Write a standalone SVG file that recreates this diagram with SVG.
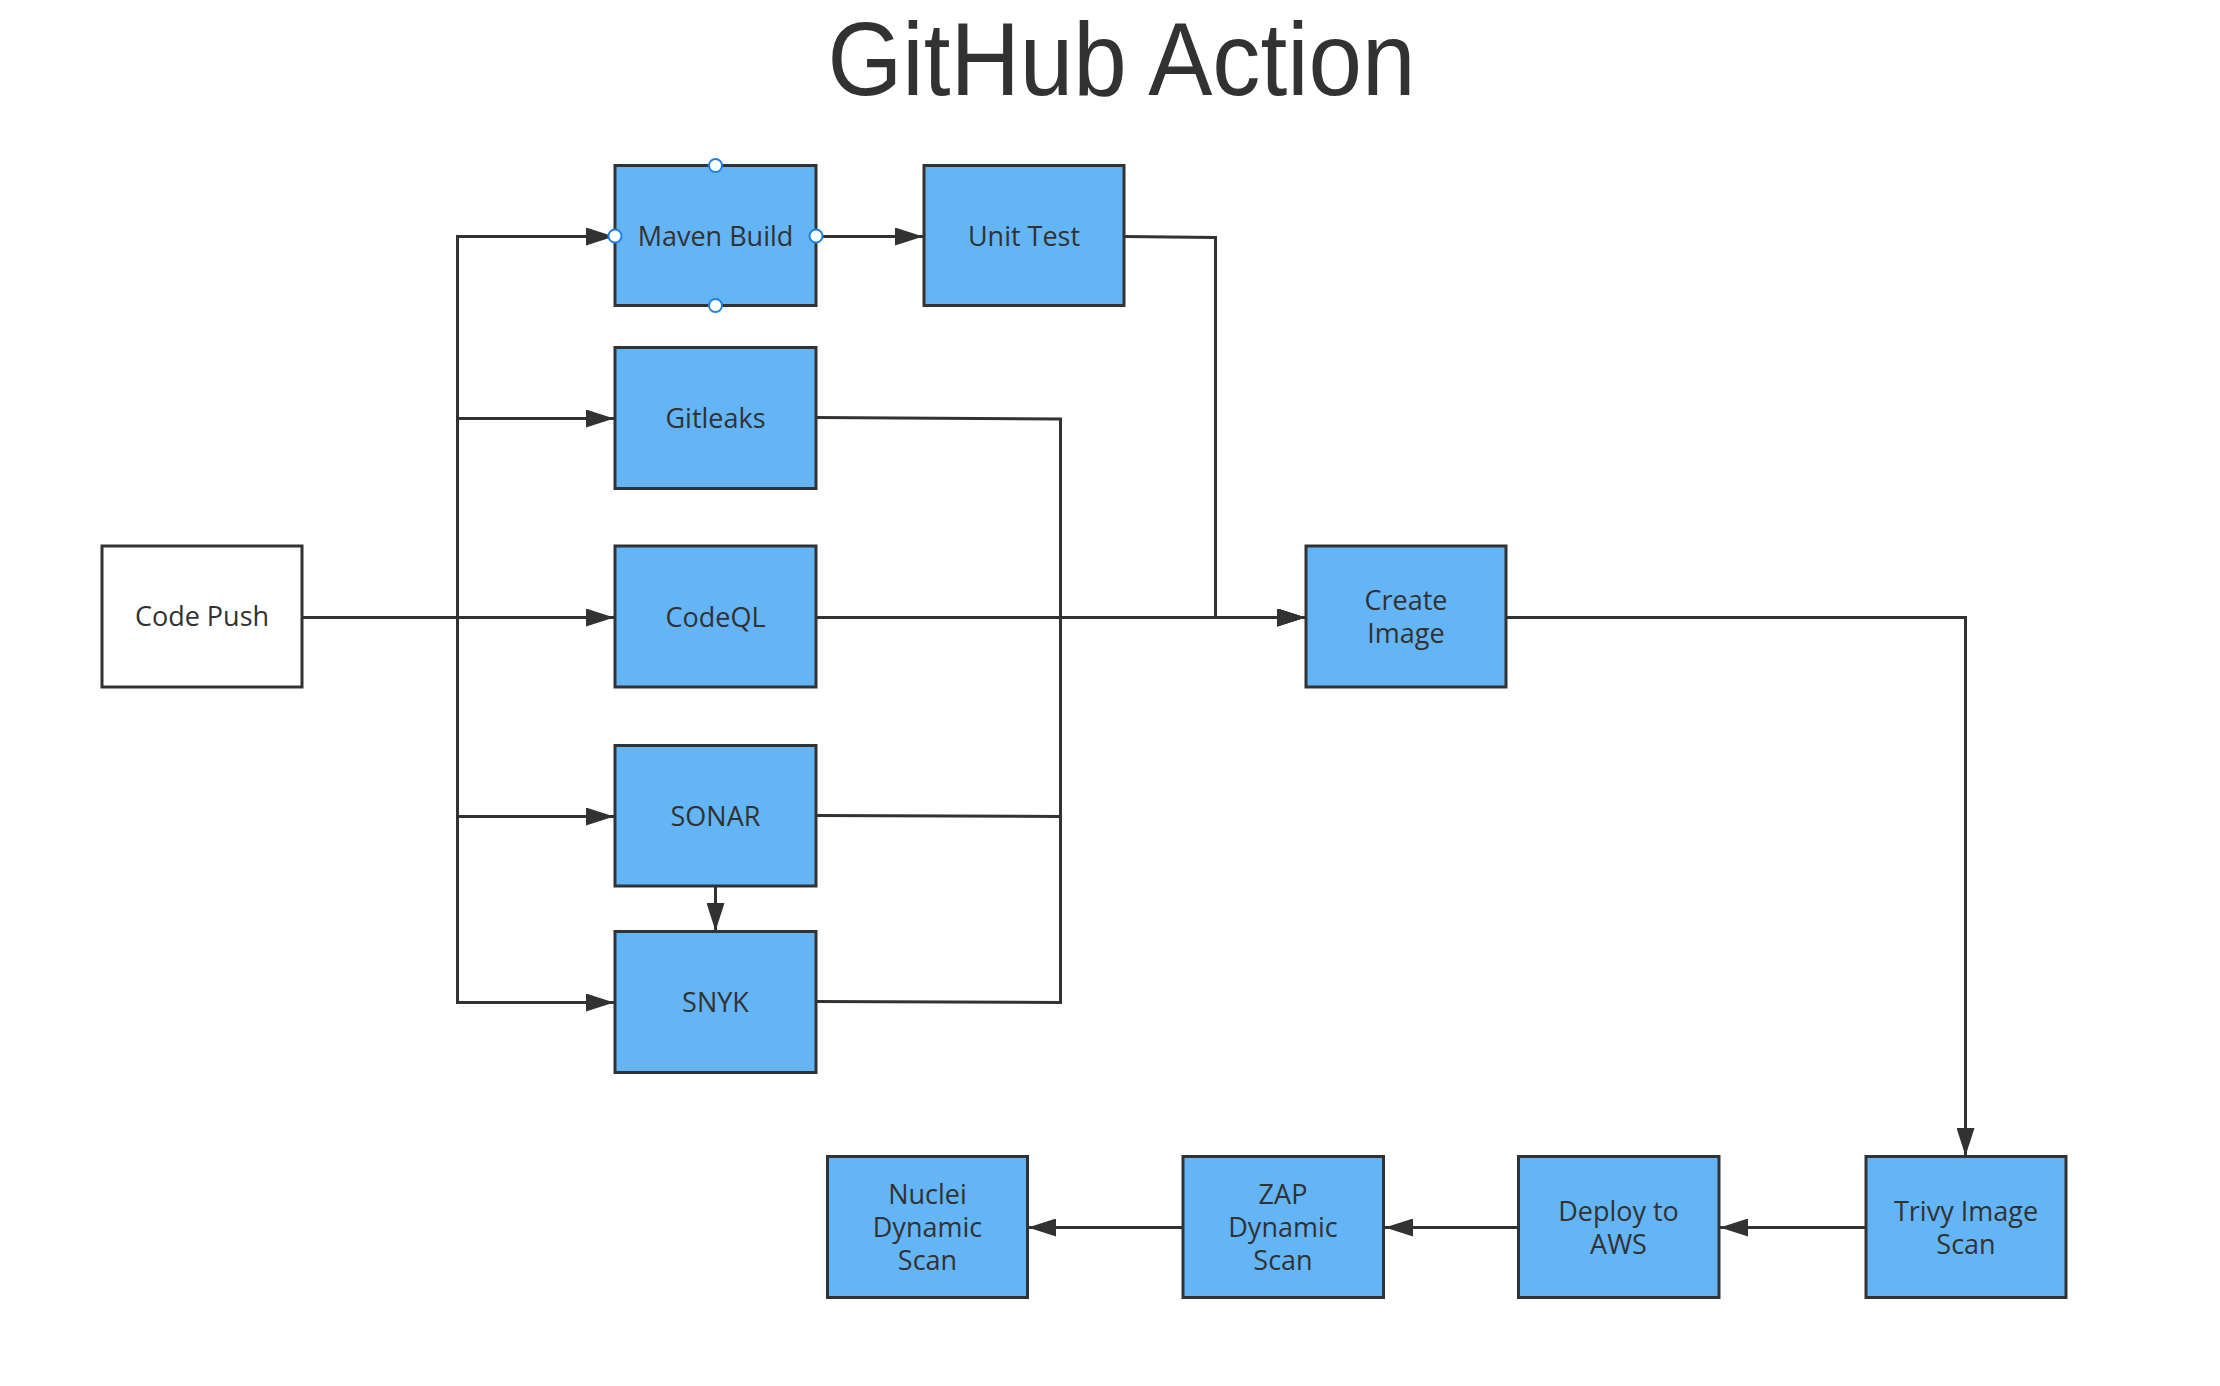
<svg xmlns="http://www.w3.org/2000/svg" width="2220" height="1386" viewBox="0 0 2220 1386">
<style>
  .box { fill: #64b5f6; stroke: #323232; stroke-width: 3; }
  .start { fill: #ffffff; stroke: #323232; stroke-width: 3; }
  .lbl { font-family: "Open Sans", "Noto Sans", sans-serif; font-size: 27px; fill: #323232; text-anchor: middle; }
  .title { font-family: "Liberation Sans", Arial, sans-serif; font-size: 104px; fill: #323232; text-anchor: middle; }
  .conn { fill: none; stroke: #323232; stroke-width: 3; stroke-linejoin: miter; }
  .arr { marker-end: url(#arrow); }
  .handle { fill: #ffffff; stroke: #1e80e6; stroke-width: 2; }
</style>
<defs>
  <marker id="arrow" viewBox="0 0 28 18" refX="28" refY="9" markerWidth="28" markerHeight="18" markerUnits="userSpaceOnUse" orient="auto">
    <path d="M0,0 L28,9 L0,18 Z" fill="#323232"/>
  </marker>
</defs>
<rect width="2220" height="1386" fill="#ffffff"/>

<text class="title" x="1121.5" y="95" textLength="588" lengthAdjust="spacingAndGlyphs">GitHub Action</text>

<g id="connectors">
  <path class="conn arr" d="M302,617.5 H457.5 V236.5 H614"/>
  <path class="conn arr" d="M302,617.5 H457.5 V418.5 H614"/>
  <path class="conn arr" d="M302,617.5 H614"/>
  <path class="conn arr" d="M302,617.5 H457.5 V816.5 H614"/>
  <path class="conn arr" d="M302,617.5 H457.5 V1002.5 H614"/>
  <path class="conn arr" d="M816,236.5 H923"/>
  <path class="conn arr" d="M715.5,886 V931"/>
  <path class="conn arr" d="M1124,236.5 L1215.5,237.5 V617.5 H1305"/>
  <path class="conn arr" d="M816,417.5 L1060.5,419 V617.5 H1305"/>
  <path class="conn arr" d="M816,815.5 L1060.5,816.5 V617.5 H1305"/>
  <path class="conn arr" d="M816,1001.5 L1060.5,1002.5 V617.5 H1305"/>
  <path class="conn arr" d="M816,617.5 H1305"/>
  <path class="conn arr" d="M1506,617.5 H1965.5 V1156"/>
  <path class="conn arr" d="M1866,1227.5 H1720"/>
  <path class="conn arr" d="M1518,1227.5 H1385"/>
  <path class="conn arr" d="M1183,1227.5 H1028"/>
</g>

<g id="code-push">
  <rect class="start" x="102" y="546" width="200" height="141"/>
  <text class="lbl" x="202" y="626">Code Push</text>
</g>
<g id="maven-build">
  <rect class="box" x="615" y="165.5" width="201" height="140"/>
  <text class="lbl" x="715.5" y="246">Maven Build</text>
  <circle class="handle" cx="715.5" cy="165.5" r="6.5"/>
  <circle class="handle" cx="715.5" cy="305.5" r="6.5"/>
  <circle class="handle" cx="615" cy="236" r="6.5"/>
  <circle class="handle" cx="816" cy="236" r="6.5"/>
</g>
<g id="unit-test">
  <rect class="box" x="924" y="165.5" width="200" height="140"/>
  <text class="lbl" x="1024" y="246">Unit Test</text>
</g>
<g id="gitleaks">
  <rect class="box" x="615" y="347.5" width="201" height="141"/>
  <text class="lbl" x="715.5" y="428">Gitleaks</text>
</g>
<g id="codeql">
  <rect class="box" x="615" y="546" width="201" height="141"/>
  <text class="lbl" x="715.5" y="627">CodeQL</text>
</g>
<g id="sonar">
  <rect class="box" x="615" y="745.5" width="201" height="140.5"/>
  <text class="lbl" x="715.5" y="826">SONAR</text>
</g>
<g id="snyk">
  <rect class="box" x="615" y="931.5" width="201" height="141"/>
  <text class="lbl" x="715.5" y="1012">SNYK</text>
</g>
<g id="create-image">
  <rect class="box" x="1306" y="546" width="200" height="141"/>
  <text class="lbl" x="1406" y="610">Create</text>
  <text class="lbl" x="1406" y="643">Image</text>
</g>
<g id="trivy-image-scan">
  <rect class="box" x="1866" y="1156.5" width="200" height="141"/>
  <text class="lbl" x="1966" y="1220.5">Trivy Image</text>
  <text class="lbl" x="1966" y="1253.5">Scan</text>
</g>
<g id="deploy-to-aws">
  <rect class="box" x="1518.5" y="1156.5" width="200.5" height="141"/>
  <text class="lbl" x="1618.5" y="1220.5">Deploy to</text>
  <text class="lbl" x="1618.5" y="1253.5">AWS</text>
</g>
<g id="zap-dynamic-scan">
  <rect class="box" x="1183" y="1156.5" width="200.5" height="141"/>
  <text class="lbl" x="1283" y="1204">ZAP</text>
  <text class="lbl" x="1283" y="1237">Dynamic</text>
  <text class="lbl" x="1283" y="1270">Scan</text>
</g>
<g id="nuclei-dynamic-scan">
  <rect class="box" x="827.5" y="1156.5" width="200" height="141"/>
  <text class="lbl" x="927.5" y="1204">Nuclei</text>
  <text class="lbl" x="927.5" y="1237">Dynamic</text>
  <text class="lbl" x="927.5" y="1270">Scan</text>
</g>
</svg>
